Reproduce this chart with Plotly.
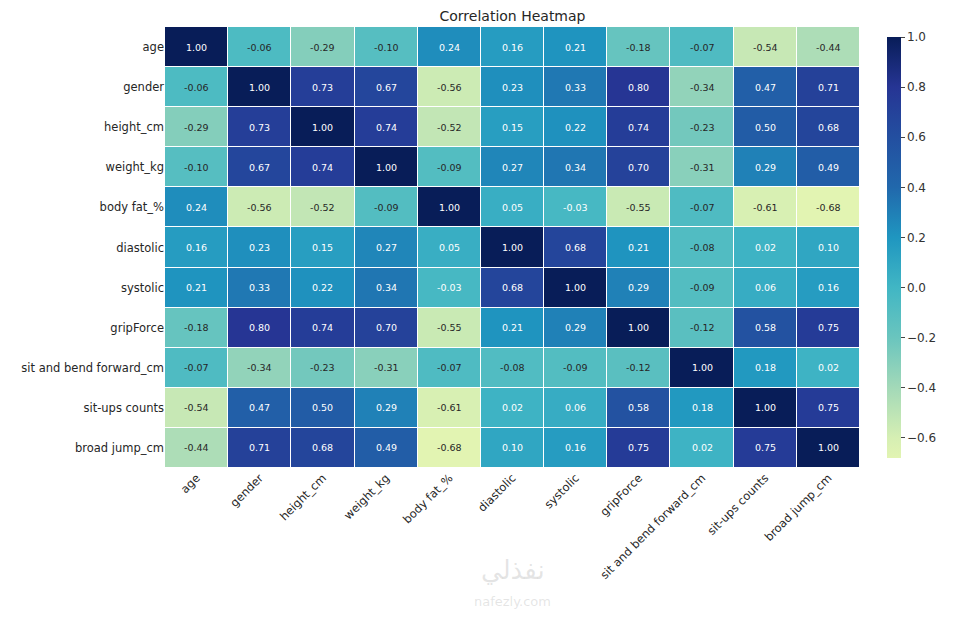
import plotly.graph_objects as go

labels = ["age","gender","height_cm","weight_kg","body fat_%","diastolic","systolic",
          "gripForce","sit and bend forward_cm","sit-ups counts","broad jump_cm"]
corr = [
 [1.00,-0.06,-0.29,-0.10,0.24,0.16,0.21,-0.18,-0.07,-0.54,-0.44],
 [-0.06,1.00,0.73,0.67,-0.56,0.23,0.33,0.80,-0.34,0.47,0.71],
 [-0.29,0.73,1.00,0.74,-0.52,0.15,0.22,0.74,-0.23,0.50,0.68],
 [-0.10,0.67,0.74,1.00,-0.09,0.27,0.34,0.70,-0.31,0.29,0.49],
 [0.24,-0.56,-0.52,-0.09,1.00,0.05,-0.03,-0.55,-0.07,-0.61,-0.68],
 [0.16,0.23,0.15,0.27,0.05,1.00,0.68,0.21,-0.08,0.02,0.10],
 [0.21,0.33,0.22,0.34,-0.03,0.68,1.00,0.29,-0.09,0.06,0.16],
 [-0.18,0.80,0.74,0.70,-0.55,0.21,0.29,1.00,-0.12,0.58,0.75],
 [-0.07,-0.34,-0.23,-0.31,-0.07,-0.08,-0.09,-0.12,1.00,0.18,0.02],
 [-0.54,0.47,0.50,0.29,-0.61,0.02,0.06,0.58,0.18,1.00,0.75],
 [-0.44,0.71,0.68,0.49,-0.68,0.10,0.16,0.75,0.02,0.75,1.00],
]

zmin, zmax = -0.68, 1.0
stops = [(-0.68,"#e2f4b2"),(-0.6,"#d6efb3"),(-0.4,"#a3d9b8"),(-0.2,"#6ac5be"),(0.0,"#41b6c4"),
         (0.2,"#1f96c0"),(0.4,"#2168ac"),(0.6,"#234fa0"),(0.8,"#263594"),(1.0,"#081d58")]
cs = [[(v - zmin)/(zmax - zmin), c] for v, c in stops]

fig = go.Figure(go.Heatmap(
    z=corr, x=labels, y=labels, colorscale=cs, zmin=zmin, zmax=zmax,
    xgap=1, ygap=1,
    colorbar=dict(x=1+(877-860)/695, xanchor="left", thickness=14, len=1, y=0.5, yanchor="middle",
                  tickvals=[-0.6,-0.4,-0.2,0,0.2,0.4,0.6,0.8,1.0],
                  ticktext=["\u22120.6","\u22120.4","\u22120.2","0.0","0.2","0.4","0.6","0.8","1.0"],
                  ticks="outside", ticklen=4, outlinewidth=0,
                  tickfont=dict(size=12, color="#333"))))

ann = []
for i, row in enumerate(corr):
    for j, v in enumerate(row):
        ann.append(dict(x=labels[j], y=labels[i], text=f"{v:.2f}", showarrow=False,
                        font=dict(size=9.5, color="white" if v > -0.05 else "#262626")))
ann.append(dict(xref="paper", yref="paper", x=0.5, y=-0.27, text="نفذلي", showarrow=False,
                font=dict(size=26, color="rgba(150,150,150,0.25)")))
ann.append(dict(xref="paper", yref="paper", x=0.5, y=-0.325, text="nafezly.com", showarrow=False,
                font=dict(size=13, color="rgba(150,150,150,0.25)")))

fig.update_layout(
    width=954, height=609, margin=dict(l=157, r=102, t=19, b=149),
    paper_bgcolor="white", plot_bgcolor="white",
    font=dict(family="DejaVu Sans", size=11.5, color="#262626"),
    title=dict(text="Correlation Heatmap", x=0.5, xref="paper", y=0.986, yanchor="middle",
               font=dict(size=14)),
    annotations=ann,
    xaxis=dict(tickangle=-45, showgrid=False, ticks="", zeroline=False),
    yaxis=dict(autorange="reversed", showgrid=False, ticks="", zeroline=False),
)
fig.write_html("out.html")
